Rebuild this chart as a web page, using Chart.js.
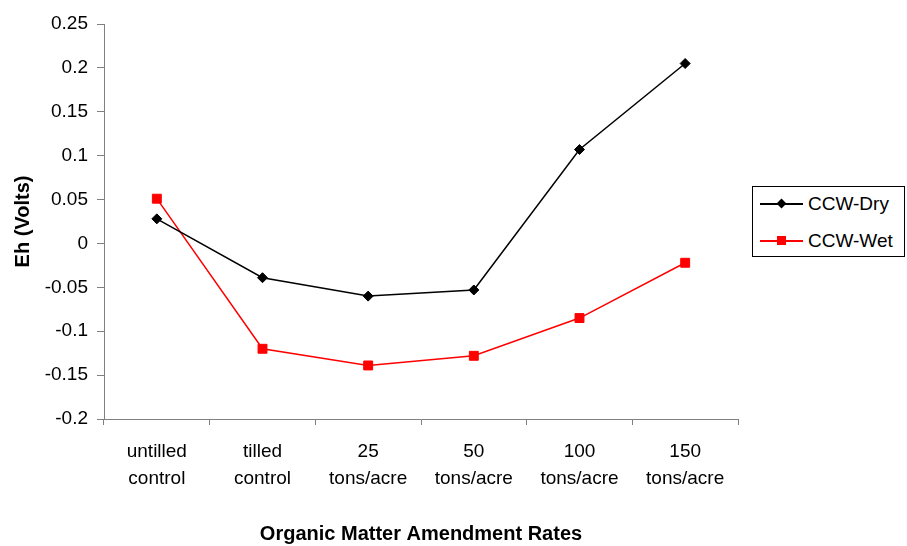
<!DOCTYPE html>
<html>
<head>
<meta charset="utf-8">
<script src="https://cdn.jsdelivr.net/npm/chart.js@4/dist/chart.umd.min.js"></script>
<style>
  body { margin: 0; background: #fff; }
  #wrap { position: relative; width: 907px; height: 546px; }
  #legend {
    position: absolute; left: 752px; top: 186px; width: 151px; height: 69px;
    border: 1px solid #000; background: #fff;
    font-family: "Liberation Sans", Arial, sans-serif; font-size: 19px; color: #000;
  }
  .item { position: absolute; left: 0; height: 24px; display: flex; align-items: center; }
  .sample { position: relative; width: 43px; height: 24px; margin-left: 7px; margin-right: 5px; }
  .sample .ln { position: absolute; left: 0; right: 0; top: 11px; height: 1.5px; }
  .sample .mk { position: absolute; }
</style>
</head>
<body>
<div id="wrap">
  <canvas id="chart" width="907" height="546"></canvas>
  <div id="legend"></div>
</div>
<script>
const categories = [
  ['untilled', 'control'],
  ['tilled', 'control'],
  ['25', 'tons/acre'],
  ['50', 'tons/acre'],
  ['100', 'tons/acre'],
  ['150', 'tons/acre'],
];
const dryValues = [0.028, -0.039, -0.060, -0.053, 0.107, 0.205];
const wetValues = [0.051, -0.120, -0.139, -0.128, -0.085, -0.022];
const yTickValues = [-0.2, -0.15, -0.1, -0.05, 0, 0.05, 0.1, 0.15, 0.2, 0.25];

const font = 'Liberation Sans';
const axisGray = '#808080';

const series = [
  { label: 'CCW-Dry', data: dryValues, color: '#000000', pointStyle: 'rectRot', radius: 5 },
  { label: 'CCW-Wet', data: wetValues, color: '#ff0000', pointStyle: 'rect', radius: 6.3 },
];

const ctx = document.getElementById('chart').getContext('2d');
const chart = new Chart(ctx, {
  type: 'line',
  data: {
    labels: categories,
    datasets: series.map((s) => ({
      label: s.label,
      data: s.data,
      borderColor: s.color,
      backgroundColor: s.color,
      borderWidth: 1.5,
      pointStyle: s.pointStyle,
      pointRadius: s.radius,
      pointBorderWidth: 1,
      tension: 0,
    })),
  },
  options: {
    responsive: false,
    animation: false,
    layout: { padding: { left: 0, top: 24, right: 169, bottom: 0 } },
    plugins: { legend: { display: false }, tooltip: { enabled: false } },
    scales: {
      x: {
        offset: true,
        border: { color: axisGray, width: 1 },
        grid: { offset: true, drawOnChartArea: false, drawTicks: true, tickLength: 6, color: axisGray },
        ticks: {
          color: '#000',
          padding: 13,
          maxRotation: 0,
          autoSkip: false,
          font: { family: font, size: 19, lineHeight: 1.42 },
        },
        title: {
          display: true,
          text: 'Organic Matter Amendment Rates',
          color: '#000',
          font: { family: font, size: 20, weight: 'bold', lineHeight: 1.2 },
          padding: { top: 0, bottom: 0 },
        },
        afterFit: (scale) => { scale.height = 127; },
      },
      y: {
        min: -0.2,
        max: 0.25,
        border: { color: axisGray, width: 1 },
        grid: { drawOnChartArea: false, drawTicks: true, tickLength: 7, color: axisGray },
        afterBuildTicks: (scale) => { scale.ticks = yTickValues.map((v) => ({ value: v })); },
        ticks: {
          color: '#000',
          padding: 9,
          font: { family: font, size: 19 },
          callback: (v) => String(Number(v.toFixed(2))),
        },
        title: {
          display: true,
          text: 'Eh (Volts)',
          color: '#000',
          font: { family: font, size: 20, weight: 'bold', lineHeight: 1.2 },
          padding: { top: 11, bottom: 0 },
        },
        afterFit: (scale) => { scale.width = 104; },
      },
    },
  },
});

// legend with line + marker samples, like the original
const legendEl = document.getElementById('legend');
series.forEach((s, i) => {
  const item = document.createElement('div');
  item.className = 'item';
  item.style.top = (5 + i * 37) + 'px';
  const sample = document.createElement('div');
  sample.className = 'sample';
  const ln = document.createElement('div');
  ln.className = 'ln';
  ln.style.background = s.color;
  const mk = document.createElement('div');
  mk.className = 'mk';
  mk.style.background = s.color;
  if (s.pointStyle === 'rectRot') {
    mk.style.width = '7px'; mk.style.height = '7px';
    mk.style.left = '18px'; mk.style.top = '8px';
    mk.style.transform = 'rotate(45deg)';
  } else {
    mk.style.width = '9px'; mk.style.height = '9px';
    mk.style.left = '17px'; mk.style.top = '7px';
  }
  sample.appendChild(ln);
  sample.appendChild(mk);
  const txt = document.createElement('span');
  txt.textContent = s.label;
  item.appendChild(sample);
  item.appendChild(txt);
  legendEl.appendChild(item);
});
</script>
</body>
</html>
